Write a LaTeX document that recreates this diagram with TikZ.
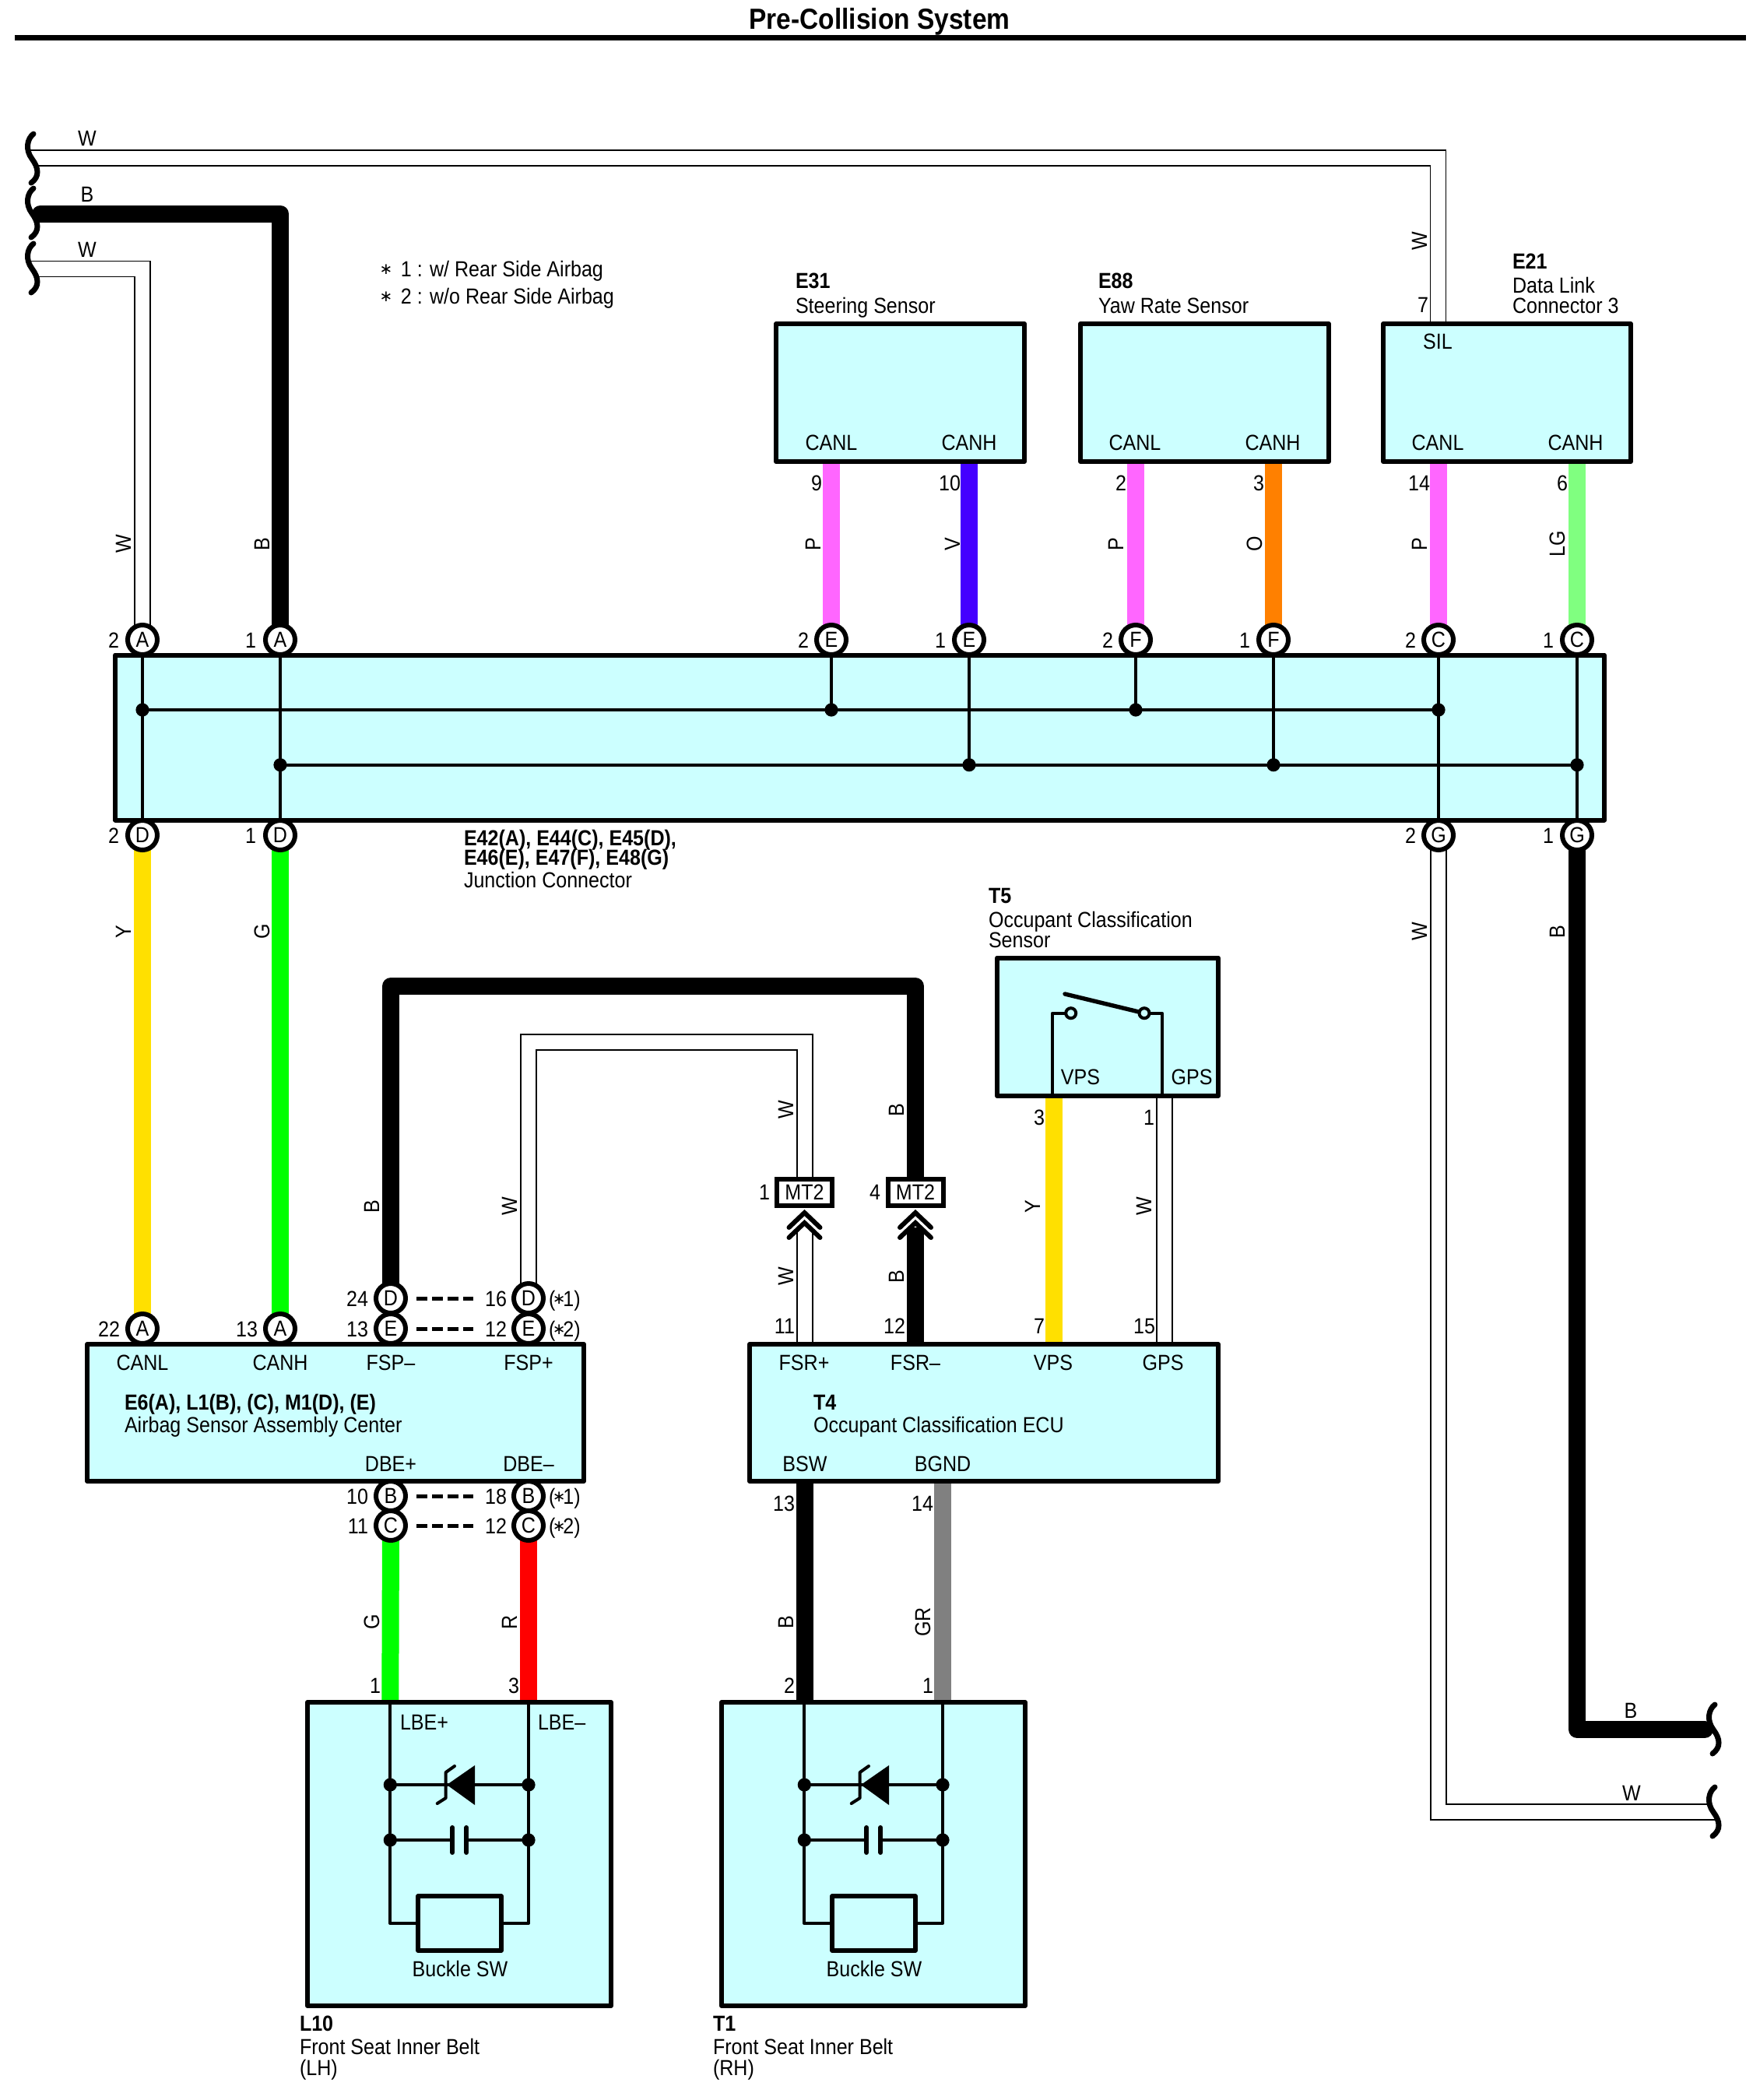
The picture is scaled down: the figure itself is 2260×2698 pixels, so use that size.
\documentclass[tikz,border=0pt]{standalone}
\usepackage{fontspec}
\setmainfont[FakeStretch=0.895]{Liberation Sans}
\newfontfamily\symf{DejaVu Sans}
\usetikzlibrary{calc}
\definecolor{boxc}{HTML}{CCFFFF}
\definecolor{wP}{HTML}{FF66FF}
\definecolor{wV}{HTML}{4400FF}
\definecolor{wO}{HTML}{FF8000}
\definecolor{wLG}{HTML}{80FF80}
\definecolor{wY}{HTML}{FFE000}
\definecolor{wG}{HTML}{00FF00}
\definecolor{wR}{HTML}{FF0000}
\definecolor{wGR}{HTML}{808080}
\pgfdeclarelayer{bg}
\pgfsetlayers{bg,main}
\newcounter{tc}
\newcommand\tx[4][]{\stepcounter{tc}\node[txt,#1] (t\arabic{tc}) at (#2,#3) {#4};}
\newcommand\st{\makebox[5pt][c]{\raisebox{1.5pt}{\symf\fontsize{10pt}{10pt}\selectfont ∗}}}
\newcommand\bx[5]{%
  \pgfmathsetmacro\bw{(#4-#2)*0.5}\pgfmathsetmacro\bh{(#5-#3)*0.5}%
  \node[devbox,minimum width=\bw pt,minimum height=\bh pt] (#1) at ({(#2+#4)/2},{(#3+#5)/2}) {};}
\newcommand\cn[4][]{\node[conn,#1] (#2) at (#3) {#4};}
\newcommand\dt[2]{\node[jdot] (#1) at (#2) {};}
\newcommand\squig[1]{\begin{scope}[shift={(#1)}]\draw[squigline] (0,0) .. controls (-8,6) and (-11,20) .. (-2,32) .. controls (7,44) and (8,55) .. (-3,63);\end{scope}}
\tikzset{
  txt/.style={inner sep=0pt,outer sep=0pt,text height=10pt,text depth=0pt,font=\fontsize{14pt}{14pt}\selectfont},
  bld/.style={font=\fontsize{14pt}{14pt}\selectfont\bfseries},
  ver/.style={rotate=90},
  ea/.style={anchor=east},
  we/.style={anchor=west},
  devbox/.style={draw=black,fill=boxc,line width=3pt,inner sep=0pt,outer sep=0pt,line join=round},
  conn/.style={circle,draw=black,fill=white,line width=3pt,minimum size=19pt,inner sep=0pt,outer sep=0pt,font=\fontsize{14pt}{14pt}\selectfont},
  jdot/.style={circle,fill=black,minimum size=8.6pt,inner sep=0pt,outer sep=0pt},
  wire/.style={line width=11pt,line join=round},
  wireW/.style={line width=0.55pt,double=white,double distance=9.45pt,line join=miter},
  thin stub/.style={line width=0.55pt},
  inw/.style={line width=2pt,line join=round},
  squigline/.style={line width=3.5pt,line cap=round},
  mt/.style={draw=black,fill=white,line width=3pt,minimum width=35.5pt,minimum height=17pt,inner sep=0pt,outer sep=0pt,font=\fontsize{14pt}{14pt}\selectfont},
  chev/.style={line width=3pt,line cap=round,line join=miter},
  swc/.style={circle,draw=black,fill=boxc,line width=2pt,minimum size=6.5pt,inner sep=0pt,outer sep=0pt},
}
\begin{document}
\begin{tikzpicture}[x=0.5pt,y=-0.5pt]
\useasboundingbox (0,0) rectangle (2260,2698);
% title
\tx[font=\fontsize{18.7pt}{18pt}\selectfont\bfseries]{1130}{28}{Pre-Collision System}
\coordinate (ruleL) at (19,48.5);\coordinate (ruleR) at (2243,48.5);
\draw[line width=3.5pt] (ruleL) -- (ruleR);
% free ends
\coordinate (fW1) at (45,203);\coordinate (fB1) at (52,274.5);\coordinate (fW2) at (45,345.7);
\coordinate (fB2) at (2190,2222);\coordinate (fW3) at (2197,2328);
% devices
\bx{e31}{997}{416}{1316}{593}
\bx{e88}{1388}{416}{1707}{593}
\bx{e21}{1777}{416}{2095}{593}
\bx{jc}{148}{841.5}{2061}{1053.5}
\bx{t5}{1281}{1230.5}{1565}{1408}
\bx{ab}{112}{1727}{750}{1903}
\bx{t4}{963}{1727}{1565}{1903}
\bx{l10}{395}{2187}{785}{2577}
\bx{t1}{927}{2187}{1317}{2577}
% pin coordinates on boxes
\foreach \n/\x/\y in {e31l/1068/593,e31h/1245/593,e88l/1459/593,e88h/1636/593,e21l/1848/593,e21h/2026/593,e21s/1847.3/416,
 abA1/183/1727,abA2/360/1727,t4a/1034/1727,t4b/1176/1727,t4c/1354/1727,t4d/1496/1727,t4e/1034/1903,t4f/1211/1903,
 t5a/1354/1408,t5b/1496/1408,la/501.3/2187,lb/679/2187,ra/1034/2187,rb/1211/2187}
 {\coordinate (\n) at (\x,\y);}
% connector circles
\foreach \n/\x/\l in {jA2/183/A,jA1/360/A,jE2/1068/E,jE1/1245/E,jF2/1459/F,jF1/1636/F,jC2/1848/C,jC1/2026/C}
  {\cn{\n}{\x,822}{\l}}
\foreach \n/\x/\l in {jD2/183/D,jD1/360/D,jG2/1848/G,jG1/2026/G}
  {\cn{\n}{\x,1073}{\l}}
\cn{aA1}{183,1707}{A}\cn{aA2}{360,1707}{A}
\cn{aD1}{502,1668}{D}\cn{aE1}{502,1707}{E}
\cn{aD2}{679,1668}{D}\cn{aE2}{679,1707}{E}
\cn{aB1}{502,1922}{B}\cn{aC1}{502,1960}{C}
\cn{aB2}{679,1922}{B}\cn{aC2}{679,1960}{C}
% MT2
\node[mt] (m1) at (1033.5,1532) {MT2};
\node[mt] (m2) at (1176,1532) {MT2};
\begin{pgfonlayer}{bg}
% white wires
\draw[wireW] (fW1) -| (e21s);
\draw[wireW] (fW2) -| (jA2);
\draw[wireW] (jG2) |- (fW3);
\coordinate (st1) at (39,193);\coordinate (st1e) at (46,193);
\coordinate (st2) at (39,335.7);\coordinate (st2e) at (46,335.7);
\coordinate (st3) at (2197,2338);\coordinate (st3e) at (2207,2338);
\draw[thin stub] (st1) -- (st1e);
\draw[thin stub] (st2) -- (st2e);
\draw[thin stub] (st3) -- (st3e);
\coordinate (wt1) at (1034,1339);\coordinate (wt2) at (679,1339);
\draw[wireW] (m1.north -| t4a) -- (wt1) -- (wt2) -- (aD2);
\coordinate (cw1) at (1034,1578);
\draw[wireW] (cw1) -- (t4a);
\draw[wireW] (t5b) -- (t4d);
% black wires
\draw[wire,line cap=round] (fB1) -| (jA1);
\draw[wire,line cap=round] (jG1) |- (fB2);
\coordinate (bt1) at (502,1267);\coordinate (bt2) at (1176,1267);
\draw[wire] (aD1) -- (bt1) -- (bt2) -- (m2);
\coordinate (cb1) at (1176,1577);
\draw[wire] (cb1) -- (t4b);
\draw[wire] (t4e) -- (ra);
% coloured wires
\draw[wire,wP] (e31l) -- (jE2);
\draw[wire,wV] (e31h) -- (jE1);
\draw[wire,wP] (e88l) -- (jF2);
\draw[wire,wO] (e88h) -- (jF1);
\draw[wire,wP] (e21l) -- (jC2);
\draw[wire,wLG] (e21h) -- (jC1);
\draw[wire,wY] (jD2) -- (aA1);
\draw[wire,wG] (jD1) -- (aA2);
\draw[wire,wY] (t5a) -- (t4c);
\draw[wire,wG] (aC1) -- (la);
\draw[wire,wR] (aC2) -- (lb);
\draw[wire,wGR] (t4f) -- (rb);
\end{pgfonlayer}
% junction internals
\foreach \a/\b in {jA2/jD2,jA1/jD1,jC2/jG2,jC1/jG1}{\draw[inw] (\a |- jc.north) -- (\b |- jc.south);}
\coordinate (bus1) at (183,912);\coordinate (bus1r) at (1848,912);
\coordinate (bus2) at (360,982.7);\coordinate (bus2r) at (2026,982.7);
\draw[inw] (bus1) -- (bus1r);
\draw[inw] (bus2) -- (bus2r);
\draw[inw] (jE2 |- jc.north) -- (jE2 |- bus1);
\draw[inw] (jF2 |- jc.north) -- (jF2 |- bus1);
\draw[inw] (jE1 |- jc.north) -- (jE1 |- bus2);
\draw[inw] (jF1 |- jc.north) -- (jF1 |- bus2);
\dt{d1}{bus1}\dt{d2}{jE2 |- bus1}\dt{d3}{jF2 |- bus1}\dt{d4}{bus1r}
\dt{d5}{bus2}\dt{d6}{jE1 |- bus2}\dt{d7}{jF1 |- bus2}\dt{d8}{bus2r}
% squiggles
\coordinate (s1) at (43,172);\coordinate (s2) at (43,242);\coordinate (s3) at (43,313);
\coordinate (s4) at (2203,2190);\coordinate (s5) at (2203,2296);
\squig{s1}\squig{s2}\squig{s3}\squig{s4}\squig{s5}
% chevrons
\foreach \m/\x in {c1/1033.5,c2/1176}{
  \draw[chev] (\x-20,1577) -- (\x,1558) -- (\x+20,1577);
  \draw[chev] (\x-20,1590) -- (\x,1571) -- (\x+20,1590);
}
% dashes between alternative connectors
\foreach \a/\b in {aD1/aD2,aE1/aE2,aB1/aB2,aC1/aC2}{
  \draw[line width=2.5pt,dash pattern=on 7pt off 3pt] ($(\a)+(33,0)$) -- ($(\a)+(106,0)$);
}
% T5 internals
\coordinate (sw1) at (1375.7,1301.7);\coordinate (sw2) at (1470,1301.7);
\coordinate (sw0) at (1368,1277);
\coordinate (v1) at (1352,1408);\coordinate (v2) at (1493,1408);
\draw[inw] (v1) |- (sw1);
\draw[inw] (v2) |- (sw2);
\draw[line width=2.7pt,line cap=round] (sw0) -- (sw2);
\node[swc] (sc1) at (sw1) {};
\node[swc] (sc2) at (sw2) {};
% belt buckles
\foreach \dx/\p in {0/l,532/r}{
  \begin{scope}[shift={(\dx,0)}]
  \coordinate (\p a) at (501.3,2187);\coordinate (\p b) at (679,2187);
  \coordinate (\p c) at (501.3,2471);\coordinate (\p d) at (679,2471);
  \coordinate (\p z1) at (501.3,2293);\coordinate (\p z2) at (679,2293);
  \coordinate (\p k1) at (501.3,2364);\coordinate (\p k2) at (679,2364);
  \draw[inw] (\p a) -- (\p c) -- (\p d) -- (\p b);
  \draw[inw] (\p z1) -- (\p z2);
  \draw[inw] (\p k1) -- (581,2364);
  \draw[inw] (\p k2) -- (599,2364);
  \fill (574,2293) -- (610,2268) -- (610,2319) -- cycle;
  \draw[line width=2pt,line cap=round,line join=round] (584,2269) -- (572.7,2277) -- (572.7,2310) -- (561.7,2317);
  \draw[line width=3pt,line cap=round] (581.3,2348) -- (581.3,2380);
  \draw[line width=3pt,line cap=round] (599.3,2348) -- (599.3,2380);
  \node[jdot] (\p j1) at (\p z1) {};\node[jdot] (\p j2) at (\p z2) {};
  \node[jdot] (\p j3) at (\p k1) {};\node[jdot] (\p j4) at (\p k2) {};
  \node[devbox,minimum width=53.2pt,minimum height=35pt] (\p sw) at (590.5,2471) {};
  \end{scope}
}
% notes
\tx[we]{491}{345}{\st\hspace{3.5pt}\ 1 : w/ Rear Side Airbag}
\tx[we]{491}{380}{\st\hspace{3.5pt}\ 2 : w/o Rear Side Airbag}
% wire colour labels
\tx{112}{177}{W}\tx{112}{249}{B}\tx{112}{320}{W}
\tx{2095}{2197}{B}\tx{2096}{2303}{W}
\tx[ver]{158}{699}{W}\tx[ver]{336}{699}{B}
\tx[ver]{1044}{699}{P}\tx[ver]{1223}{699}{V}
\tx[ver]{1433}{699}{P}\tx[ver]{1611}{699}{O}
\tx[ver]{1823}{699}{P}\tx[ver]{2000}{699}{LG}
\tx[ver]{1823}{310}{W}
\tx[ver]{158}{1197}{Y}\tx[ver]{336}{1197}{G}
\tx[ver]{1823}{1197}{W}\tx[ver]{2000}{1197}{B}
\tx[ver]{477}{1550}{B}\tx[ver]{654}{1550}{W}
\tx[ver]{1009}{1426}{W}\tx[ver]{1151}{1426}{B}
\tx[ver]{1009}{1640}{W}\tx[ver]{1151}{1640}{B}
\tx[ver]{1326}{1550}{Y}\tx[ver]{1469}{1550}{W}
\tx[ver]{477}{2084}{G}\tx[ver]{654}{2084}{R}
\tx[ver]{1009}{2084}{B}\tx[ver]{1185}{2084}{GR}
% pin numbers
\tx[ea]{153}{822}{2}\tx[ea]{329}{822}{1}
\tx[ea]{1039}{822}{2}\tx[ea]{1215}{822}{1}
\tx[ea]{1430}{822}{2}\tx[ea]{1606}{822}{1}
\tx[ea]{1819}{822}{2}\tx[ea]{1996}{822}{1}
\tx[ea]{153}{1073}{2}\tx[ea]{329}{1073}{1}
\tx[ea]{1819}{1073}{2}\tx[ea]{1996}{1073}{1}
\tx[ea]{1056}{620}{9}\tx[ea]{1234}{620}{10}
\tx[ea]{1447}{620}{2}\tx[ea]{1624}{620}{3}
\tx[ea]{1837}{620}{14}\tx[ea]{2014}{620}{6}
\tx[ea]{1835}{391}{7}
\tx[ea]{154}{1707}{22}\tx[ea]{331}{1707}{13}
\tx[ea]{473}{1668}{24}\tx[ea]{473}{1707}{13}
\tx[ea]{651}{1668}{16}\tx[ea]{651}{1707}{12}
\tx[ea]{473}{1922}{10}\tx[ea]{473}{1960}{11}
\tx[ea]{651}{1922}{18}\tx[ea]{651}{1960}{12}
\tx[we]{705}{1668}{(\st1)}\tx[we]{705}{1707}{(\st2)}
\tx[we]{705}{1922}{(\st1)}\tx[we]{705}{1960}{(\st2)}
\tx[ea]{989}{1531}{1}\tx[ea]{1131}{1531}{4}
\tx[ea]{1021}{1703}{11}\tx[ea]{1163}{1703}{12}
\tx[ea]{1342}{1703}{7}\tx[ea]{1484}{1703}{15}
\tx[ea]{1342}{1435}{3}\tx[ea]{1483}{1435}{1}
\tx[ea]{1021}{1931}{13}\tx[ea]{1199}{1931}{14}
\tx[ea]{1021}{2165}{2}\tx[ea]{1199}{2165}{1}
\tx[ea]{489}{2165}{1}\tx[ea]{667}{2165}{3}
% terminal names
\foreach \x/\l in {1068/CANL,1245/CANH,1458/CANL,1635/CANH,1847/CANL,2024/CANH}{\tx{\x}{568}{\l}}
\tx{1847}{438}{SIL}
\foreach \x/\l in {183/CANL,360/CANH,502/FSP–,679/FSP+,1033/FSR+,1176/FSR–,1353/VPS,1494/GPS}{\tx{\x}{1750}{\l}}
\foreach \x/\l in {502/DBE+,679/DBE–,1034/BSW,1211/BGND}{\tx{\x}{1880}{\l}}
\tx{1388}{1383}{VPS}\tx{1531}{1383}{GPS}
\tx[we]{514}{2212}{LBE+}\tx[we]{691}{2212}{LBE–}
\tx{591}{2529}{Buckle SW}\tx{1123}{2529}{Buckle SW}
% device captions
\tx[we,bld]{1022}{360}{E31}\tx[we]{1022}{392}{Steering Sensor}
\tx[we,bld]{1411}{360}{E88}\tx[we]{1411}{392}{Yaw Rate Sensor}
\tx[we,bld]{1943}{335}{E21}\tx[we]{1943}{366}{Data Link}\tx[we]{1943}{392}{Connector 3}
\tx[we,bld]{596}{1076}{E42(A), E44(C), E45(D),}
\tx[we,bld]{596}{1101}{E46(E), E47(F), E48(G)}
\tx[we]{596}{1130}{Junction Connector}
\tx[we,bld]{1270}{1150}{T5}\tx[we]{1270}{1181}{Occupant Classification}\tx[we]{1270}{1207}{Sensor}
\tx[we,bld]{160}{1801}{E6(A), L1(B), (C), M1(D), (E)}
\tx[we]{160}{1830}{Airbag Sensor Assembly Center}
\tx[we,bld]{1045}{1801}{T4}\tx[we]{1045}{1830}{Occupant Classification ECU}
\tx[we,bld]{385}{2599}{L10}\tx[we]{385}{2629}{Front Seat Inner Belt}\tx[we]{385}{2656}{(LH)}
\tx[we,bld]{916}{2599}{T1}\tx[we]{916}{2629}{Front Seat Inner Belt}\tx[we]{916}{2656}{(RH)}
\end{tikzpicture}
\end{document}
